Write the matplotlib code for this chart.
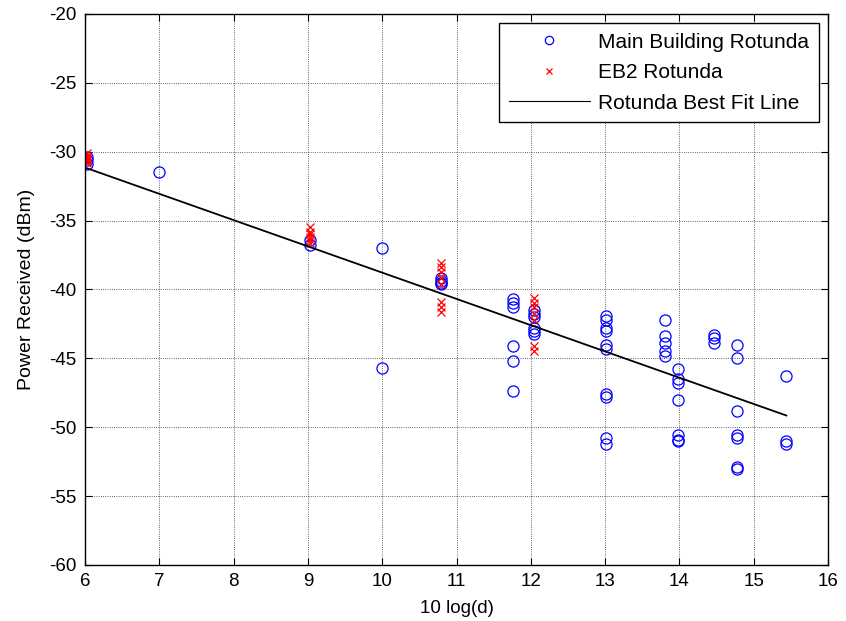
"""
Received power vs 10 log(d) for the two rotunda measurements
"""
import numpy as np
import matplotlib.pyplot as plt

plt.rcParams['font.family'] = ['Liberation Sans', 'DejaVu Sans']
plt.rcParams['axes.unicode_minus'] = False

# Main Building Rotunda (blue circles)
mb_x = [6.02, 6.02, 6.02, 6.99,
        9.03, 9.03,
        10.0, 10.0,
        10.79, 10.79, 10.79, 10.79,
        11.76, 11.76, 11.76, 11.76, 11.76, 11.76,
        12.04, 12.04, 12.04, 12.04, 12.04, 12.04,
        13.01, 13.01, 13.01, 13.01, 13.01, 13.01, 13.01, 13.01, 13.01, 13.01,
        13.8, 13.8, 13.8, 13.8, 13.8,
        13.98, 13.98, 13.98, 13.98, 13.98, 13.98, 13.98,
        14.47, 14.47, 14.47,
        14.77, 14.77, 14.77, 14.77, 14.77, 14.77, 14.77,
        15.44, 15.44, 15.44]
mb_y = [-30.4, -30.6, -30.9, -31.5,
        -36.4, -36.8,
        -37.0, -45.7,
        -39.2, -39.35, -39.5, -39.6,
        -40.7, -41.0, -41.3, -44.1, -45.2, -47.4,
        -41.5, -41.8, -42.0, -42.8, -43.0, -43.2,
        -41.9, -42.2, -42.8, -43.0, -44.0, -44.3, -47.6, -47.8, -50.8, -51.2,
        -42.2, -43.4, -43.9, -44.5, -44.8,
        -45.8, -46.5, -46.8, -48.0, -50.6, -50.9, -51.0,
        -43.3, -43.5, -43.9,
        -44.0, -45.0, -48.8, -50.6, -50.8, -52.9, -53.0,
        -46.3, -51.0, -51.2]

# EB2 Rotunda (red crosses)
eb_x = [6.02, 6.02, 6.02, 6.02, 6.02, 6.02, 6.02,
        9.03, 9.03, 9.03, 9.03, 9.03, 9.03,
        10.79, 10.79, 10.79, 10.79, 10.79, 10.79, 10.79, 10.79,
        12.04, 12.04, 12.04, 12.04, 12.04, 12.04, 12.04]
eb_y = [-30.1, -30.3, -30.4, -30.5, -30.6, -30.7, -30.8,
        -35.5, -35.8, -36.0, -36.2, -36.4, -36.6,
        -38.1, -38.4, -38.7, -39.2, -39.6, -40.9, -41.3, -41.6,
        -40.6, -41.0, -41.3, -41.8, -42.2, -44.1, -44.5]

# best fit line end points
fit_x = [6.0, 15.44]
fit_y = [-31.15, -49.15]

fig = plt.figure(figsize=(8.46, 6.21), dpi=100)
ax = fig.add_axes([0.1005, 0.0902, 0.8782, 0.8873])

ax.plot(mb_x, mb_y, 'o', color='b', mfc='none', ms=8, mew=0.9,
        label='Main Building Rotunda')
ax.plot(eb_x, eb_y, 'x', color='r', ms=6, mew=0.9, label='EB2 Rotunda')
ax.plot(fit_x, fit_y, '-', color='k', lw=1.3, label='Rotunda Best Fit Line')

ax.set_xlim(6, 16)
ax.set_ylim(-60, -20)
ax.set_xticks(np.arange(6, 17, 1))
ax.set_yticks(np.arange(-60, -19, 5))
ax.grid(True, color='k', linestyle=':', linewidth=0.6, alpha=0.8)
ax.tick_params(direction='in', top=True, right=True, labelsize=13.5,
               length=5, pad=6)
for s in ax.spines.values():
    s.set_linewidth(1.0)

ax.set_xlabel('10 log(d)', fontsize=13.5, labelpad=7)
ax.set_ylabel('Power Received (dBm)', fontsize=14, labelpad=10)

leg = ax.legend(loc='upper right', fontsize=15, fancybox=False,
                edgecolor='k', framealpha=1, borderaxespad=0.45,
                handlelength=3.9, handletextpad=0.4, labelspacing=0.55,
                borderpad=0.45, markerscale=0.75)
leg.get_frame().set_linewidth(1.0)
leg.get_lines()[2].set_linewidth(0.8)

fig.savefig('out.png', dpi=100)
